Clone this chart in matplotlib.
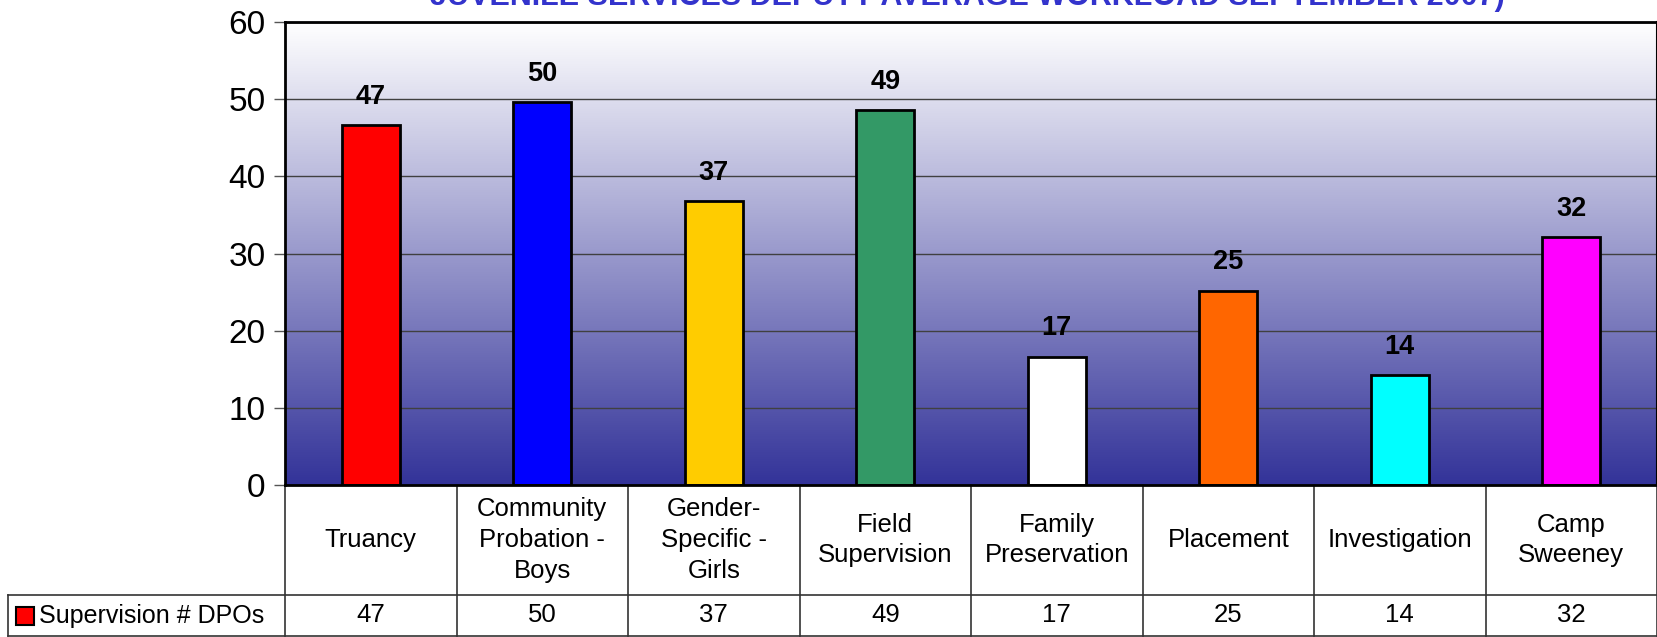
import numpy as np
import matplotlib
matplotlib.use("Agg")
from matplotlib import pyplot as plt
from matplotlib.colors import LinearSegmentedColormap
from matplotlib.transforms import blended_transform_factory

plt.rcParams['font.family'] = ['Liberation Sans', 'DejaVu Sans']

categories = ["Truancy", "Community\nProbation -\nBoys", "Gender-\nSpecific -\nGirls",
              "Field\nSupervision", "Family\nPreservation", "Placement",
              "Investigation", "Camp\nSweeney"]
values = [46.6, 49.6, 36.8, 48.6, 16.6, 25.2, 14.2, 32.1]
labels = ["47", "50", "37", "49", "17", "25", "14", "32"]
bar_colors = ["#FF0000", "#0000FF", "#FFCC00", "#339966", "#FFFFFF",
              "#FF6600", "#00FFFF", "#FF00FF"]
series_name = "Supervision # DPOs"
title = "JUVENILE SERVICES DEPUTY AVERAGE WORKLOAD SEPTEMBER 2007)"

W, H = 1657, 637
fig = plt.figure(figsize=(W / 100, H / 100), dpi=100)
ax_l, ax_r, ax_t, ax_b = 285, 1657, 22, 485
ax = fig.add_axes([ax_l / W, (H - ax_b) / H, (ax_r - ax_l) / W, (ax_b - ax_t) / H])

x = np.arange(len(categories))
ax.set_xlim(-0.5, len(categories) - 0.5)

# gradient background: white at top, dark blue at the bottom
cmap = LinearSegmentedColormap.from_list("bg", ["#FFFFFF", "#333399"])
grad = np.linspace(0, 1, 256).reshape(-1, 1)
ax.imshow(grad, extent=[-0.5, len(categories) - 0.5, 0, 60], aspect='auto',
          cmap=cmap, zorder=0, origin='upper')
ax.set_ylim(0, 60)

ax.set_yticks(np.arange(0, 61, 10))
ax.yaxis.grid(True, color="#404040", linewidth=1.0, zorder=1)
ax.set_axisbelow(True)
ax.tick_params(axis='y', labelsize=24, length=8, width=1, color="#555555", pad=6)
ax.set_xticks([])

ax.bar(x, values, width=0.34, color=bar_colors, edgecolor="black", linewidth=2, zorder=3)
for xi, v, lab in zip(x, values, labels):
    ax.text(xi, v + 2.0, lab, ha='center', va='bottom', fontsize=19.5, fontweight='bold', zorder=4)

for s in ['left', 'top', 'bottom']:
    ax.spines[s].set_linewidth(2)
    ax.spines[s].set_color("black")
ax.spines['right'].set_linewidth(1.5)
ax.spines['bottom'].set_zorder(5)

# data table under the axis
tr = blended_transform_factory(ax.transData, ax.transAxes)
tra = ax.transAxes
span = ax_r - ax_l
row1 = -(595 - ax_b) / (ax_b - ax_t)
row2 = -(636 - ax_b) / (ax_b - ax_t)
legx = (8 - ax_l) / span
lw = 1.2
for xi in np.arange(-0.5, len(categories), 1.0):
    ax.plot([xi, xi], [0, row2], transform=tr, color="#333333", lw=lw, clip_on=False)
ax.plot([legx, 1], [row1, row1], transform=tra, color="#333333", lw=lw, clip_on=False)
ax.plot([legx, 1], [row2, row2], transform=tra, color="#333333", lw=lw, clip_on=False)
ax.plot([legx, legx], [row1, row2], transform=tra, color="#333333", lw=lw, clip_on=False)
for xi, cat, lab in zip(x, categories, labels):
    ax.text(xi, row1 / 2, cat, transform=tr, ha='center', va='center',
            fontsize=18.5, linespacing=1.35)
    ax.text(xi, (row1 + row2) / 2, lab, transform=tr, ha='center', va='center', fontsize=18.5)
ax.plot([(25 - ax_l) / span], [(row1 + row2) / 2], transform=tra, marker='s', markersize=13,
        color="#FF0000", markeredgecolor="black", markeredgewidth=1.5, clip_on=False)
ax.text((39 - ax_l) / span, (row1 + row2) / 2, series_name, transform=tra, ha='left',
        va='center', fontsize=18)

fig.text(967 / W, 1 - 5 / H, title, ha='center', va='baseline', fontsize=22,
         fontweight='bold', color="#3333CC")

fig.savefig("out.png", dpi=100)
